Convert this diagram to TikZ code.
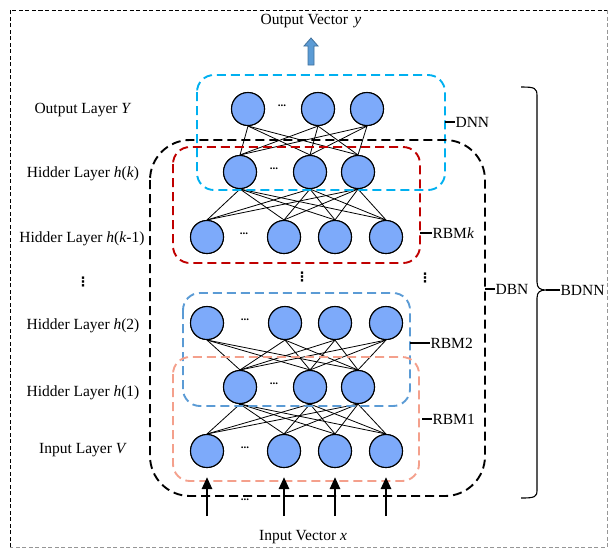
\documentclass[tikz,border=0pt]{standalone}
\usepackage{fontspec}
\setmainfont{Liberation Serif}
\newfontfamily\dotsfont{DejaVu Sans}
\usetikzlibrary{arrows.meta}

\definecolor{nodefill}{RGB}{125,170,250}
\definecolor{dnncol}{RGB}{0,176,240}
\definecolor{rbmkcol}{RGB}{192,0,0}
\definecolor{rbmtwocol}{RGB}{91,155,213}
\definecolor{rbmonecol}{RGB}{244,160,140}
\definecolor{arrowfill}{RGB}{91,155,213}
\definecolor{arrowedge}{RGB}{65,113,156}
\definecolor{frameedge}{RGB}{150,150,150}

\begin{document}
\begin{tikzpicture}[x=1pt,y=-1pt,
  every node/.style={font=\fontsize{15.5}{18}\selectfont},
  neuron/.style={circle,draw=black,line width=1.1pt,fill=nodefill,minimum size=33pt,inner sep=0pt},
  link/.style={line width=0.8pt},
  group/.style={dash pattern=on 9pt off 5pt,line width=1.9pt,rounded corners=17pt},
  hdots/.style={font=\fontsize{11}{12}\selectfont\bfseries,inner sep=0pt},
  vdotsnode/.style={font=\fontsize{13}{14}\selectfont\dotsfont\bfseries,inner sep=0pt},
  tick/.style={line width=1.1pt},
  lab/.style={anchor=west,inner sep=0pt},
  layerlab/.style={inner sep=0pt},
  frame/.style={dash pattern=on 4pt off 2.5pt,line width=0.9pt},
  inarrow/.style={line width=2.6pt,-{Triangle[length=12pt,width=10pt]},shorten >=9pt}
]
\useasboundingbox (0,0) rectangle (609,550);

% outer frame
\draw[frame,black] (10,547) -- (10,10) -- (607,10);
\draw[frame,frameedge] (607,10) -- (607,547) -- (10,547);

% neurons
\foreach \n/\x in {o1/248,o2/318,o3/367} \node[neuron] (\n) at (\x,109) {};
\foreach \n/\x in {k1/240,k2/310,k3/358} \node[neuron] (\n) at (\x,172) {};
\foreach \n/\x in {m1/207,m2/284,m3/335,m4/386} \node[neuron] (\n) at (\x,237) {};
\foreach \n/\x in {a1/207,a2/285,a3/335,a4/386} \node[neuron] (\n) at (\x,323) {};
\foreach \n/\x in {b1/240,b2/310,b3/358} \node[neuron] (\n) at (\x,387) {};
\foreach \n/\x in {v1/207,v2/284,v3/335,v4/386} \node[neuron] (\n) at (\x,451) {};

% full connections between adjacent layers
\foreach \u in {o1,o2,o3} \foreach \l in {k1,k2,k3} \draw[link] (\u.south) -- (\l.north);
\foreach \u in {k1,k2,k3} \foreach \l in {m1,m2,m3,m4} \draw[link] (\u.south) -- (\l.north);
\foreach \u in {a1,a2,a3,a4} \foreach \l in {b1,b2,b3} \draw[link] (\u.south) -- (\l.north);
\foreach \u in {b1,b2,b3} \foreach \l in {v1,v2,v3,v4} \draw[link] (\u.south) -- (\l.north);

% redraw neurons on top of the links
\foreach \n in {o1,o2,o3,k1,k2,k3,m1,m2,m3,m4,a1,a2,a3,a4,b1,b2,b3,v1,v2,v3,v4}
  \path (\n) node[neuron] {};

% ellipsis between neurons
\node[hdots] (d1) at (282,106) {...};
\node[hdots] (d2) at (274,169) {...};
\node[hdots] (d3) at (244,234) {...};
\node[hdots] (d4) at (245,320) {...};
\node[hdots] (d5) at (274,384) {...};
\node[hdots] (d6) at (245,448) {...};
\node[hdots] (d7) at (245,500) {...};
\node[vdotsnode] (vd1) at (302,277) {⋮};
\node[vdotsnode] (vd2) at (425,278) {⋮};
\node[vdotsnode] (vd3) at (83,282) {⋮};

% grouping boxes
\draw[group,dnncol] (197,75) rectangle (445,190);
\draw[group,rbmkcol] (173,147) rectangle (420,263);
\draw[group,rbmtwocol] (183,293) rectangle (410,406);
\draw[group,rbmonecol] (173,357) rectangle (419,481);
\draw[group,black,rounded corners=40pt] (150,140) rectangle (485,496);

% input arrows
\foreach \v/\x in {v1/207,v2/284,v3/335,v4/386} {
  \coordinate (in\v) at (\x,516);
  \draw[inarrow] (in\v) -- (\v.south);
}

% output block arrow
\draw[fill=arrowfill,draw=arrowedge,line width=0.8pt]
  (308,65) -- (308,46) -- (304,46) -- (311,38) -- (318,46) -- (314,46) -- (314,65) -- cycle;

% titles
\node (outvec) at (311,21) {Output Vector\, \textit{y}};
\node (invec) at (303,537) {Input Vector \textit{x}};

% layer labels
\node[layerlab] (ly) at (83,110) {Output Layer \textit{Y}};
\node[layerlab] (lk) at (83,174) {Hidder Layer \textit{h}(\textit{k})};
\node[layerlab] (lk1) at (82,239) {Hidder Layer \textit{h}(\textit{k}-1)};
\node[layerlab] (l2) at (83,326) {Hidder Layer \textit{h}(2)};
\node[layerlab] (l1) at (83,393) {Hidder Layer \textit{h}(1)};
\node[layerlab] (lv) at (83,450) {Input Layer \textit{V}};

% group labels
\draw[tick] (445,122) -- (455,122) node[lab] (ldnn) {DNN};
\draw[tick] (420,233) -- (432,233) node[lab] (lrbmk) {RBM\textit{k}};
\draw[tick] (485,289) -- (495,289) node[lab] (ldbn) {DBN};
\draw[tick] (410,343) -- (430,343) node[lab] (lrbm2) {RBM2};
\draw[tick] (422,419) -- (432,419) node[lab] (lrbm1) {RBM1};

% brace around the whole network
\draw[line width=1.1pt]
  (521,87) .. controls (535,87) and (537,88) .. (537,96) -- (537,282)
  .. controls (537,288) and (540,290) .. (546,290)
  .. controls (540,290) and (537,292) .. (537,298) -- (537,490)
  .. controls (537,497) and (535,498) .. (521,498);
\draw[tick] (546,290) -- (560,290) node[lab] (lbdnn) {BDNN};
\end{tikzpicture}
\end{document}
